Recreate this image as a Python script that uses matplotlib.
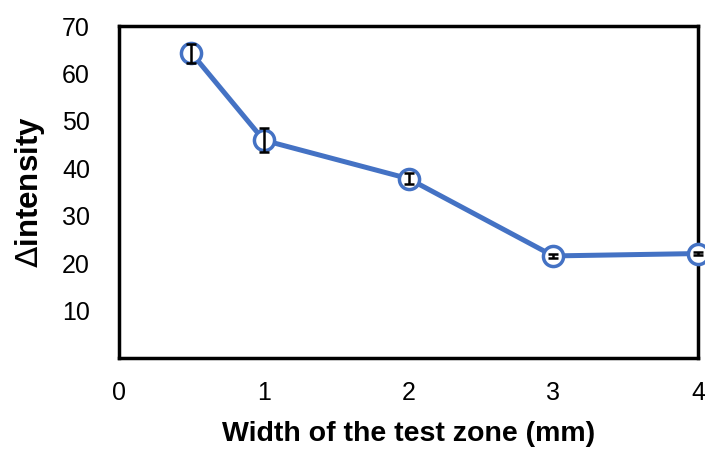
import matplotlib
matplotlib.use('Agg')
import matplotlib.pyplot as plt

plt.rcParams['font.family'] = ['Liberation Sans', 'DejaVu Sans']
plt.rcParams['mathtext.fontset'] = 'custom'
plt.rcParams['mathtext.it'] = 'Liberation Sans:italic:bold'

# data
width_mm = [0.5, 1, 2, 3, 4]
delta_intensity = [64.3, 45.9, 37.8, 21.5, 22.0]
err = [2.0, 2.5, 1.2, 0.4, 0.4]
x_ticks = [0, 1, 2, 3, 4]
y_ticks = [10, 20, 30, 40, 50, 60, 70]

blue = '#4472C4'

fig = plt.figure(figsize=(7.05, 4.57), dpi=100)
ax = fig.add_axes([0.169, 0.217, 0.821, 0.726])

ax.plot(width_mm, delta_intensity, color=blue, lw=3.6, zorder=2, clip_on=False)
ax.plot(width_mm, delta_intensity, 'o', ms=14.5, mfc='white', mec=blue, mew=2.5,
        zorder=3, clip_on=False)
ax.errorbar(width_mm, delta_intensity, yerr=err, fmt='none', ecolor='black',
            elinewidth=1.8, capsize=3.5, capthick=1.8, zorder=5, clip_on=False)

ax.set_xlim(0, 4)
ax.set_ylim(0, 70)
ax.set_xticks(x_ticks)
ax.set_yticks(y_ticks)
ax.tick_params(length=0, labelsize=18)
ax.tick_params(axis='y', pad=21)
ax.tick_params(axis='x', pad=17)
for s in ax.spines.values():
    s.set_linewidth(2.5)

ax.set_xlabel('Width of the test zone (mm)', fontsize=20.5, fontweight='bold', labelpad=11)
ax.set_ylabel(r'$\mathit{\Delta}$intensity', fontsize=22.5, fontweight='bold', labelpad=11)

fig.savefig('out.png', dpi=100)
